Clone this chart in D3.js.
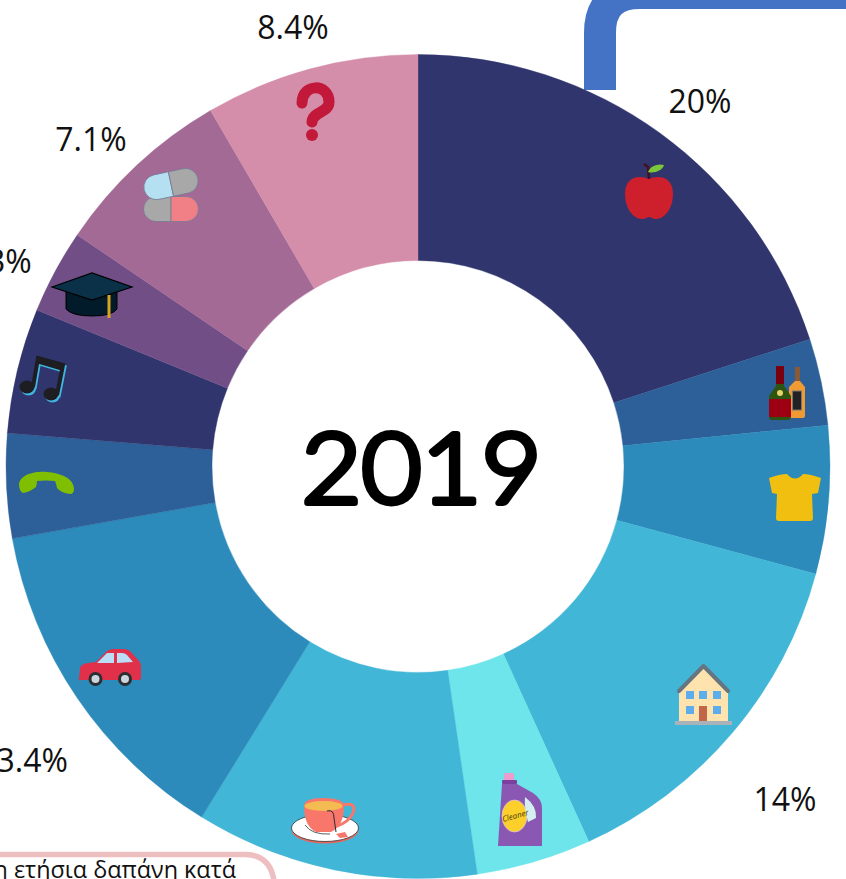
<!DOCTYPE html>
<html>
<head>
<meta charset="utf-8">
<script src="https://cdn.jsdelivr.net/npm/d3@7"></script>
<style>
    html, body { margin: 0; padding: 0; background: #fff; overflow: hidden; }
    svg { display: block; }
    text { font-family: "Open Sans", sans-serif; }
</style>
</head>
<body>
<div id="chart"></div>
<script>
// shares of yearly spending, clockwise from 12 o'clock
const categories = ["food", "alcohol", "clothing", "housing", "household", "leisure",
    "transport", "phone", "music", "education", "health", "other"];
const shares = [20, 3.4, 5.8, 14, 4.5, 11.1, 13.4, 4.1, 4.9, 3.3, 7.1, 8.4];
const shareLabels = ["20%", null, null, "14%", null, null, "13.4%", null, null, "3.3%", "7.1%", "8.4%"];
const sliceColors = ["#31356d", "#2d5f98", "#2c8bba", "#41b6d7", "#6de5ea", "#41b6d7",
    "#2c8bba", "#2d5f98", "#31356d", "#724e87", "#a46a96", "#d48eaa"];
const centerTitle = "2019";
const boxText = "η ετήσια δαπάνη κατά";

const width = 846, height = 879;
const cx = 418, cy = 466.5;
const outerR = 412, innerR = 206;

const svg = d3.select("#chart")
    .append("svg")
    .attr("width", width)
    .attr("height", height);

// blue frame peeking in behind the top right
svg.append("path")
    .attr("d", "M600,90 V33 Q600,-7 640,-7 H880")
    .attr("fill", "none")
    .attr("stroke", "#4472c4")
    .attr("stroke-width", 32);

// pink box cut off by the bottom edge
svg.append("path")
    .attr("d", "M-30,854.5 H245 Q272,854.5 274.5,885")
    .attr("fill", "none")
    .attr("stroke", "#eebfc0")
    .attr("stroke-width", 5.5);

svg.append("text")
    .attr("x", 236)
    .attr("y", 878)
    .attr("text-anchor", "end")
    .attr("font-size", 23.4)
    .attr("fill", "#111")
    .text(boxText);

const pie = d3.pie().sort(null).value(d => d)(shares);
const arc = d3.arc().innerRadius(innerR).outerRadius(outerR);

const donut = svg.append("g").attr("transform", `translate(${cx},${cy})`);

donut.selectAll("path")
    .data(pie)
    .join("path")
    .attr("d", arc)
    .attr("fill", (d, i) => sliceColors[i])
    .attr("stroke", (d, i) => sliceColors[i])
    .attr("stroke-width", 0.4);

// outside labels sit wherever the author dragged them
const labelPos = [
    [700, 113], null, null, [785, 811], null, null,
    [23, 772], null, null, [-4, 273], [91, 151], [293, 39]
];

svg.append("g")
    .selectAll("text")
    .data(shareLabels)
    .join("text")
    .attr("x", (d, i) => labelPos[i] ? labelPos[i][0] : 0)
    .attr("y", (d, i) => labelPos[i] ? labelPos[i][1] : 0)
    .attr("text-anchor", "middle")
    .attr("font-size", 32)
    .attr("fill", "#111")
    .text(d => d);

// hand drawn looking year in the hole
svg.append("text")
    .attr("x", 421.5)
    .attr("y", 503)
    .attr("text-anchor", "middle")
    .attr("font-size", 96)
    .attr("textLength", 240)
    .attr("lengthAdjust", "spacingAndGlyphs")
    .attr("fill", "#000")
    .attr("stroke", "#000")
    .attr("stroke-width", 6)
    .attr("stroke-linejoin", "round")
    .style("font-family", "Lato, sans-serif")
    .style("font-weight", 300)
    .text(centerTitle);

// icons, one small group each
const icons = svg.append("g");

function apple(g) {
    g.append("path")
        .attr("d", "M625,194 C625,176 640,175 649,179 C658,175 673,176 673,194 C673,208 665,219 656,219 C652,219 651,217 649,217 C647,217 646,219 642,219 C633,219 625,208 625,194 Z")
        .attr("fill", "#cd1f2c");
    g.append("path")
        .attr("d", "M644,164 L648,167 L649,179")
        .attr("fill", "none").attr("stroke", "#47101c").attr("stroke-width", 2.5);
    g.append("path")
        .attr("d", "M648,172 C650,166 658,163 664,165 C663,170 654,174 648,172 Z")
        .attr("fill", "#7cc63a");
}

function bottles(g) {
    g.append("path")
        .attr("d", "M795,367 H800 V381 L805,387 V416 Q805,418 803,418 H791 Q789,418 789,416 V387 L795,381 Z")
        .attr("fill", "#ef9a33");
    g.append("rect").attr("x", 795).attr("y", 367).attr("width", 5).attr("height", 14).attr("fill", "#8a5a36");
    g.append("rect").attr("x", 792.5).attr("y", 391).attr("width", 9).attr("height", 19).attr("fill", "#222").attr("stroke", "#777");
    g.append("path")
        .attr("d", "M776,366 H784 V386 L791,396 V416 Q791,420 788,420 H772 Q769,420 769,416 V396 L776,386 Z")
        .attr("fill", "#2d5410");
    g.append("rect").attr("x", 776).attr("y", 366).attr("width", 8).attr("height", 18).attr("fill", "#7a0010");
    g.append("rect").attr("x", 769).attr("y", 399).attr("width", 22).attr("height", 18).attr("fill", "#9c0012");
    g.append("circle").attr("cx", 780).attr("cy", 393).attr("r", 3).attr("fill", "#e9d36a");
}

function shirt(g) {
    g.append("path")
        .attr("d", "M769,478 Q780,474 787,474 Q795,483 803,474 Q810,474 821,478 L818,493 L812,494 L813,518 Q813,521 810,521 H779 Q776,521 776,518 L777,494 L772,493 Z")
        .attr("fill", "#f0bf10");
}

function house(g) {
    g.append("rect").attr("x", 679).attr("y", 690).attr("width", 49).attr("height", 32).attr("fill", "#ffe3ae");
    g.append("path")
        .attr("d", "M679,691 L703.5,666 L728,691")
        .attr("fill", "#ffe3ae").attr("stroke", "#66757f").attr("stroke-width", 4).attr("stroke-linecap", "round").attr("stroke-linejoin", "round");
    g.append("rect").attr("x", 675).attr("y", 721).attr("width", 57).attr("height", 4).attr("fill", "#a8b2b8");
    const windows = [[686, 691], [699, 691], [713, 691], [686, 706], [713, 706]];
    g.selectAll("rect.win").data(windows).join("rect")
        .attr("class", "win")
        .attr("x", d => d[0]).attr("y", d => d[1])
        .attr("width", 8).attr("height", 8).attr("fill", "#5dadec");
    g.append("rect").attr("x", 699).attr("y", 706).attr("width", 8).attr("height", 15).attr("fill", "#c0674a");
}

function detergent(g) {
    g.append("rect").attr("x", 504).attr("y", 773).attr("width", 10).attr("height", 8).attr("rx", 2).attr("fill", "#ee9ccc");
    g.append("rect").attr("x", 502).attr("y", 780).attr("width", 15).attr("height", 4).attr("rx", 1).attr("fill", "#7a3f9f");
    g.append("path")
        .attr("d", "M502,784 H517 L533,793 Q542,799 542,808 V846 H498 Z")
        .attr("fill", "#8a57b3");
    g.append("ellipse").attr("cx", 514.5).attr("cy", 816).attr("rx", 12.5).attr("ry", 16).attr("fill", "#fdcf2a").attr("stroke", "#d9c6ea").attr("stroke-width", 0.7);
    g.append("path").attr("d", "M525,797 Q537,806 536,818 L528,822 Q524,808 525,797 Z").attr("fill", "#d5eef2");
    g.append("text").attr("transform", "translate(503,822) rotate(-15)")
        .attr("font-size", 8).attr("fill", "#4a3f10").style("font-style", "italic").text("Cleaner");
}

function teacup(g) {
    g.append("ellipse").attr("cx", 325).attr("cy", 830).attr("rx", 33.5).attr("ry", 13.5).attr("fill", "#e8665e");
    g.append("ellipse").attr("cx", 325).attr("cy", 828).attr("rx", 33.5).attr("ry", 13.5).attr("fill", "#fff").attr("stroke", "#333").attr("stroke-width", 0.8);
    g.append("path").attr("d", "M343,805 Q357,802 353,813 Q349,822 337,826").attr("fill", "none").attr("stroke", "#f8776a").attr("stroke-width", 3);
    g.append("path").attr("d", "M304,806 Q304,798 323,798 Q344,798 344,806 Q344,826 331,832 H316 Q304,826 304,806 Z").attr("fill", "#f8776a");
    g.append("ellipse").attr("cx", 323.5).attr("cy", 806).attr("rx", 19).attr("ry", 5).attr("fill", "#f4bb52");
    g.append("path").attr("d", "M305,825 Q312,835 330,834").attr("fill", "none").attr("stroke", "#333").attr("stroke-width", 0.8);
    g.append("path").attr("d", "M327,811 Q334,809 334,818 L336,832").attr("fill", "none").attr("stroke", "#2a2a3a").attr("stroke-width", 1);
    g.append("path").attr("d", "M336,834 L345,832 L348,837 L340,838 Z").attr("fill", "#f8776a");
}

function car(g) {
    g.append("path")
        .attr("d", "M79,679 L80,668 Q81,664 88,663 L96,662 L106,652 Q109,649 114,649 H123 Q128,649 131,652 L139,661 Q141,663 141,668 V678 Q141,680 138,680 H82 Q78,681 79,679 Z")
        .attr("fill", "#e0304a");
    g.append("path").attr("d", "M97,663 L107,653 H114 V663 Z").attr("fill", "#bbddf5");
    g.append("path").attr("d", "M117,653 H122 Q125,653 127,655 L133,662 L117,663 Z").attr("fill", "#bbddf5");
    g.selectAll("circle.tyre").data([95.5, 125]).join("circle")
        .attr("class", "tyre").attr("cx", d => d).attr("cy", 679).attr("r", 7).attr("fill", "#2b2f33");
    g.selectAll("circle.hub").data([95.5, 125]).join("circle")
        .attr("class", "hub").attr("cx", d => d).attr("cy", 679).attr("r", 4).attr("fill", "#ccd6dd");
}

function phone(g) {
    g.append("path")
        .attr("d", "M19,484 C21,473 38,471 47,472 C60,473 74,478 74,489 Q74,494 70,494 Q61,493 57,488 Q56,483 55,481 Q46,480 37,481 Q37,484 36,487 Q30,492 23,493 Q19,491 19,484 Z")
        .attr("fill", "#7fbf00");
}

function notes(g) {
    const drawNotes = (color, dx, dy) => {
        const n = g.append("g").attr("transform", `translate(${dx},${dy})`);
        n.append("ellipse").attr("cx", 27).attr("cy", 387).attr("rx", 7.5).attr("ry", 6.5).attr("fill", color);
        n.append("ellipse").attr("cx", 51).attr("cy", 394).attr("rx", 7.5).attr("ry", 6.5).attr("fill", color);
        n.append("path")
            .attr("d", "M33,387 L38,358 L63,365 L57,395")
            .attr("fill", "none").attr("stroke", color).attr("stroke-width", 4);
        n.append("path").attr("d", "M37,356 L64,364 L63,371 L36,363 Z").attr("fill", color);
    };
    drawNotes("#41b4e0", 1.5, 2);
    drawNotes("#1d1d22", 0, 0);
}

function gradCap(g) {
    g.append("path")
        .attr("d", "M66,292 V309 Q72,316 92,316 Q112,316 117,309 V292 Z")
        .attr("fill", "#021b2a").attr("stroke", "#000");
    g.append("path")
        .attr("d", "M52,287 L92,273 L132,287 L92,300 Z")
        .attr("fill", "#0b3148").attr("stroke", "#000").attr("stroke-width", 1.2);
    g.append("rect").attr("x", 107.5).attr("y", 295).attr("width", 3).attr("height", 23).attr("fill", "#d6a520");
}

function pills(g) {
    const capsule = (x, y, rot, left, right) => {
        const p = g.append("g").attr("transform", `translate(${x},${y}) rotate(${rot})`);
        p.append("path").attr("d", "M0,-12.5 H-15 A12.5,12.5 0 0 0 -15,12.5 H0 Z").attr("fill", left).attr("stroke", "#777a96").attr("stroke-width", 0.8);
        p.append("path").attr("d", "M0,-12.5 H15 A12.5,12.5 0 0 1 15,12.5 H0 Z").attr("fill", right).attr("stroke", "#777a96").attr("stroke-width", 0.8);
    };
    capsule(171, 209, 0, "#a8a8a8", "#f08085");
    capsule(171, 184, -12, "#b5e0f2", "#a8a8a8");
}

function question(g) {
    g.append("path")
        .attr("d", "M302,103 C302,83 329,83 329,102 C329,113 313,111 312,122")
        .attr("fill", "none").attr("stroke", "#c2183a").attr("stroke-width", 11).attr("stroke-linecap", "round");
    g.append("circle").attr("cx", 312).attr("cy", 135).attr("r", 6).attr("fill", "#c2183a");
}

const iconDraw = [apple, bottles, shirt, house, detergent, teacup, car, phone, notes, gradCap, pills, question];
categories.forEach((name, i) => {
    iconDraw[i](icons.append("g").attr("class", "icon-" + name));
});
</script>
</body>
</html>
